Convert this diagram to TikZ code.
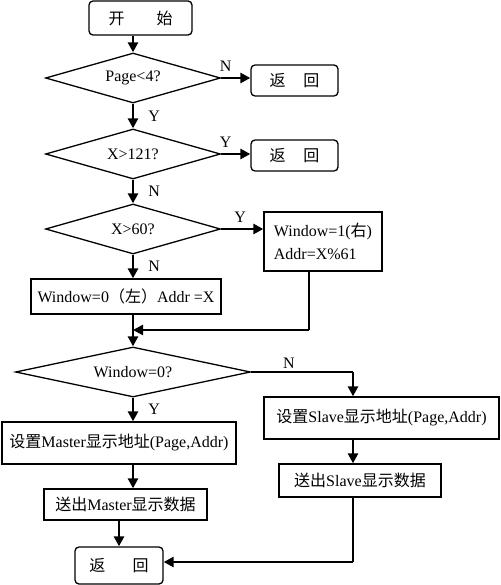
\documentclass[tikz,border=0pt]{standalone}
\usepackage{fontspec}
\setmainfont{Liberation Serif}
\newfontfamily\cjk{Noto Sans CJK SC}
\usetikzlibrary{shapes.geometric,arrows.meta}

\tikzset{
  box/.style={draw, line width=1.3pt, inner sep=2pt},
  term/.style={box, rounded corners=4pt},
  decision/.style={diamond, draw, line width=1.3pt, aspect=3.5, inner sep=0pt,
    minimum width=175pt, minimum height=50pt},
  flow/.style={line width=2.6pt, -{Triangle[length=10pt,width=10pt]}},
  link/.style={line width=1.3pt},
  lbl/.style={inner sep=0pt}
}

\begin{document}
\begin{tikzpicture}[x=1pt, y=-1pt, font=\fontsize{16}{19}\selectfont]
    \useasboundingbox (0,0) rectangle (500,585);
    % 节点
    \node[term, minimum width=103pt, minimum height=34pt] (start) at (140.5,18) {\cjk 开\hspace{2em}始};
    \node[decision] (page) at (133,78) {Page<4?};
    \node[term, minimum width=87pt, minimum height=31pt] (ret1) at (294.5,80.5) {\cjk 返\hspace{1.1em}回};
    \node[decision] (x121) at (133,154) {X>121?};
    \node[term, minimum width=87pt, minimum height=31pt] (ret2) at (294.5,155.5) {\cjk 返\hspace{1.1em}回};
    \node[decision] (x60) at (133,229) {X>60?};
    \node[box, minimum width=118pt, minimum height=59pt, align=left] (win1) at (323,241.5)
        {Window=1({\cjk 右})\\[4pt]Addr=X\%61};
    \node[box, minimum width=190pt, minimum height=35pt] (win0) at (126,296.5)
        {Window=0{\cjk （左）}Addr =X};
    \coordinate (merge) at (133,330);
    \coordinate (join1) at (309,330);
    \node[decision, minimum width=235pt] (win) at (133,372) {Window=0?};
    \coordinate (corner) at (353,372);
    \node[box, minimum width=235pt, minimum height=42pt] (sset) at (381.5,418)
        {{\cjk 设置}Slave{\cjk 显示地址}(Page,Addr)};
    \node[box, minimum width=234pt, minimum height=42pt] (mset) at (119,443)
        {{\cjk 设置}Master{\cjk 显示地址}(Page,Addr)};
    \node[box, minimum width=162pt, minimum height=33pt] (sout) at (360,480.5)
        {{\cjk 送出}Slave{\cjk 显示数据}};
    \node[box, minimum width=163pt, minimum height=31pt] (mout) at (125.5,504.5)
        {{\cjk 送出}Master{\cjk 显示数据}};
    \node[term, minimum width=88pt, minimum height=37pt] (end) at (119,565.5) {\cjk 返\hspace{1.7em}回};
    \coordinate (join2) at (353,562);

    % 连线
    \draw[flow] (start.south -| page.north) -- (page.north);
    \draw[flow] (page.east) -- (page.east -| ret1.west) node[lbl, pos=0.15, above=5pt] {N};
    \draw[flow] (page.south) -- (x121.north) node[lbl, midway, right=14pt] {Y};
    \draw[flow] (x121.east) -- (x121.east -| ret2.west) node[lbl, pos=0.15, above=5pt] {Y};
    \draw[flow] (x121.south) -- (x60.north) node[lbl, midway, right=14pt] {N};
    \draw[flow] (x60.east) -- (x60.east -| win1.west) node[lbl, pos=0.45, above=5pt] {Y};
    \draw[flow] (x60.south) -- (win0.north -| x60.south) node[lbl, midway, right=14pt] {N};
    \draw[flow] (win0.south -| win.north) -- (win.north);
    \draw[link] (win1.south -| join1) -- (join1);
    \draw[flow] (join1) -- (merge);
    \draw[link] (win.east) -- (corner) node[lbl, pos=0.37, above=3pt] {N};
    \draw[flow] (corner) -- (corner |- sset.north);
    \draw[flow] (win.south) -- (win.south |- mset.north) node[lbl, midway, right=14pt] {Y};
    \draw[flow] (corner |- sset.south) -- (corner |- sout.north);
    \draw[flow] (win.south |- mset.south) -- (win.south |- mout.north);
    \draw[flow] (end.north |- mout.south) -- (end.north);
    \draw[link] (corner |- sout.south) -- (join2);
    \draw[flow] (join2) -- (join2 -| end.east);
\end{tikzpicture}
\end{document}
